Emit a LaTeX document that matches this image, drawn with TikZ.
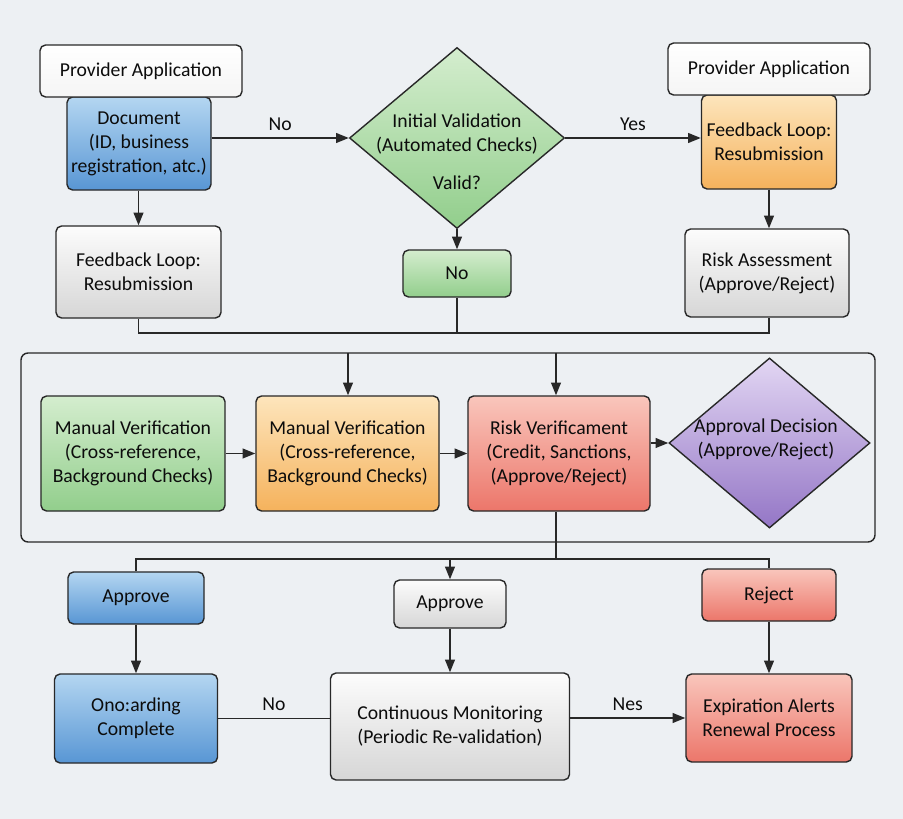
\documentclass[tikz,border=0pt]{standalone}
\usepackage{fontspec}
\setmainfont{Carlito}
\usetikzlibrary{arrows.meta,shapes.geometric,calc}
\definecolor{bg}{RGB}{237,240,243}
\definecolor{ink}{RGB}{12,12,12}
\definecolor{rim}{RGB}{40,40,40}
\definecolor{blueA}{RGB}{180,214,241}
\definecolor{blueB}{RGB}{88,150,212}
\definecolor{greenA}{RGB}{212,237,206}
\definecolor{greenB}{RGB}{146,206,140}
\definecolor{orangeA}{RGB}{253,229,188}
\definecolor{orangeB}{RGB}{245,178,92}
\definecolor{redA}{RGB}{249,198,188}
\definecolor{redB}{RGB}{236,118,106}
\definecolor{purpleA}{RGB}{226,214,243}
\definecolor{purpleB}{RGB}{148,118,198}
\definecolor{grayA}{RGB}{252,252,252}
\definecolor{grayB}{RGB}{214,214,214}
\definecolor{whiteA}{RGB}{255,255,255}
\definecolor{whiteB}{RGB}{245,245,245}
\tikzset{%
  box/.style={rectangle,rounded corners=4pt,draw=rim,line width=1pt,
    top color=#1A,bottom color=#1B,align=center,text=ink,inner sep=1pt},
  box/.default=gray,
  decision/.style={diamond,draw=rim,line width=1pt,inner sep=0pt,
    top color=#1A,bottom color=#1B},
  link/.style={draw=rim,line width=1pt},
  arr/.style={link,-{Triangle[length=9pt,width=7pt]}},
  lbl/.style={text=ink,inner sep=0pt,align=center}
}

\begin{document}
\begin{tikzpicture}[x=0.025cm,y=-0.025cm,font=\fontsize{14}{17}\selectfont]
  % Background
  \fill[bg] (0,0) rectangle (903,819);
  % Intake
  \node[box=blue,minimum width=3.6cm,minimum height=2.325cm] (doc) at (139,143.5)
    {Document\\(ID, business\\registration, atc.)};
  \node[box=white,minimum width=5.05cm,minimum height=1.3cm] (pa1) at (141,71) {Provider Application};
  \node[box,minimum width=4.125cm,minimum height=2.3cm] (fb1) at (138.5,272) {Feedback Loop:\\Resubmission};
  \node[decision=green,minimum width=5.375cm,minimum height=4.525cm] (iv) at (457,138) {};
  \node[lbl] (ivt) at (457,152) {Initial Validation\\(Automated Checks)\\[10pt]Valid?};
  \node[box=green,minimum width=2.7cm,minimum height=1.175cm] (no1) at (457,273.5) {No};
  \node[box=orange,minimum width=3.375cm,minimum height=2.35cm] (fb2) at (769,142) {Feedback Loop:\\Resubmission};
  \node[box=white,minimum width=5.05cm,minimum height=1.3cm] (pa2) at (769,69) {Provider Application};
  \node[box,minimum width=4.1cm,minimum height=2.2cm] (ra) at (767,273) {Risk Assessment\\(Approve/Reject)};
  \draw[arr] (doc.east |- iv.west) -- node[lbl,above=5pt] (lno) {No} (iv.west);
  \draw[arr] (iv.east) -- node[lbl,above=5pt] (lyes) {Yes} (iv.east -| fb2.west);
  \draw[arr] (doc.south -| fb1.north) -- (fb1.north);
  \draw[arr] (iv.south) -- (no1.north);
  \draw[arr] (fb2.south) -- (fb2.south |- ra.north);
  \coordinate (j1) at (457,333);
  \draw[link] (fb1.south) |- (j1) -| (fb2.south |- ra.south);
  \draw[link] (no1.south) -- (j1);
  % Verification
  \draw[link,rounded corners=5pt] (21,353) rectangle (875,542);
  \coordinate (t1) at (348,353);
  \coordinate (t2) at (556,353);
  \node[box=green,minimum width=4.6cm,minimum height=2.875cm] (mv1) at (133,453.5)
    {Manual Verification\\(Cross-reference,\\Background Checks)};
  \node[box=orange,minimum width=4.575cm,minimum height=2.875cm] (mv2) at (347.5,453.5)
    {Manual Verification\\(Cross-reference,\\Background Checks)};
  \node[box=red,minimum width=4.55cm,minimum height=2.875cm] (rv) at (559,453.5)
    {Risk Verificament\\(Credit, Sanctions,\\(Approve/Reject)};
  \node[decision=purple,minimum width=5.025cm,minimum height=4.25cm] (ad) at (769.5,443) {};
  \node[lbl] (adt) at (766,439) {Approval Decision\\(Approve/Reject)};
  \draw[arr] (t1) -- (t1 |- mv2.north);
  \draw[arr] (t2) -- (t2 |- rv.north);
  \draw[arr] (mv1.east) -- (mv2.west);
  \draw[arr] (mv2.east) -- (rv.west);
  \draw[arr] (rv.east |- ad.west) -- (ad.west);
  % Outcome
  \node[box=blue,minimum width=3.4cm,minimum height=1.3cm] (ap1) at (136,598) {Approve};
  \node[box,minimum width=2.8cm,minimum height=1.2cm] (ap2) at (450,604) {Approve};
  \node[box=red,minimum width=3.35cm,minimum height=1.3cm] (rj) at (769,595) {Reject};
  \node[box=blue,minimum width=4.075cm,minimum height=2.225cm] (ob) at (136,718.5) {Ono:arding\\Complete};
  \node[box,minimum width=5.975cm,minimum height=2.675cm] (cm) at (450,726.5)
    {Continuous Monitoring\\(Periodic Re-validation)};
  \node[box=red,minimum width=4.15cm,minimum height=2.2cm] (ex) at (769,718) {Expiration Alerts\\Renewal Process};
  \coordinate (j2) at (556,559);
  \draw[link] (t2 |- rv.south) -- (j2);
  \draw[link] (ap1.north) |- (j2) -| (rj.north);
  \draw[arr] (j2 -| ap2.north) -- (ap2.north);
  \draw[arr] (ap1.south) -- (ob.north);
  \draw[arr] (ap2.south) -- (cm.north);
  \draw[arr] (rj.south) -- (ex.north);
  \draw[link] (ob.east) -- node[lbl,above=5pt] (lno2) {No} (ob.east -| cm.west);
  \draw[arr] (ex.west -| cm.east) -- node[lbl,above=5pt] (lnes) {Nes} (ex.west);
\end{tikzpicture}
\end{document}
